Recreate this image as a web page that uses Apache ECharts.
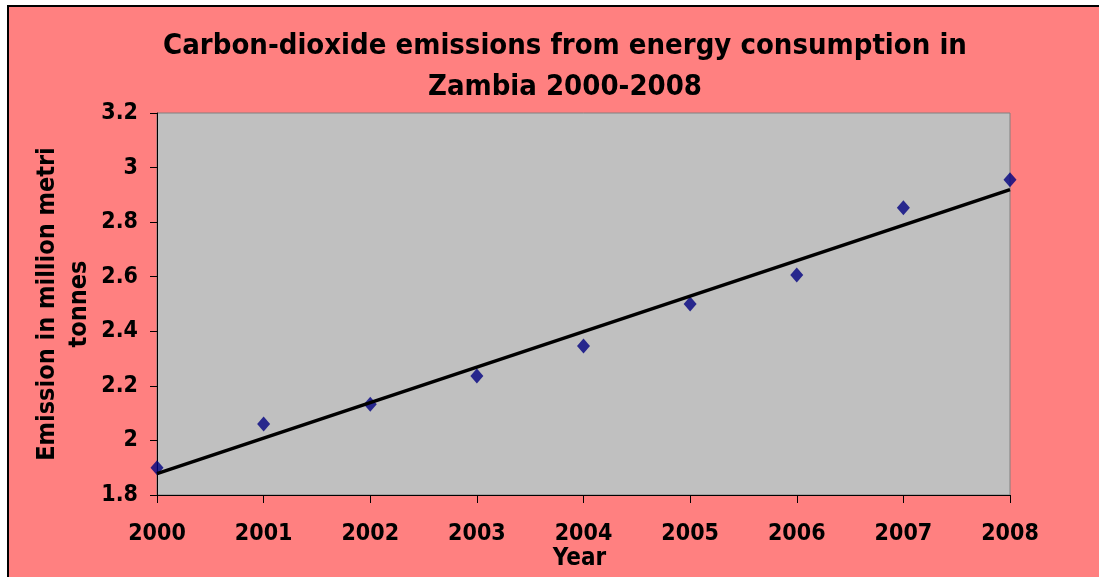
<!DOCTYPE html>
<html>
<head>
<meta charset="utf-8">
<script src="https://cdn.jsdelivr.net/npm/echarts@6/dist/echarts.min.js"></script>
<style>
  html, body { margin: 0; padding: 0; background: #ffffff; overflow: hidden; }
  #frame { position: absolute; left: 7px; top: 5px; width: 1100px; height: 580px;
           background: #FF8080; border-left: 2px solid #000; border-top: 2px solid #000; box-sizing: border-box; }
  #chart { position: absolute; left: 0; top: 0; width: 1099px; height: 577px; }
</style>
</head>
<body>
<div id="frame"></div>
<div id="chart"></div>
<script>
const years = [2000, 2001, 2002, 2003, 2004, 2005, 2006, 2007, 2008];
const emissions = [1.90, 2.06, 2.133, 2.236, 2.346, 2.50, 2.606, 2.853, 2.955];
const titleText = 'Carbon-dioxide emissions from energy consumption in\nZambia 2000-2008';
const xAxisTitle = 'Year';
const yAxisTitle = 'Emission in million metri\ntonnes';

// linear trendline (least squares) from the data
const n = years.length;
const mx = years.reduce((a, b) => a + b, 0) / n;
const my = emissions.reduce((a, b) => a + b, 0) / n;
let sxy = 0, sxx = 0;
for (let i = 0; i < n; i++) { sxy += (years[i] - mx) * (emissions[i] - my); sxx += (years[i] - mx) ** 2; }
const slope = sxy / sxx;
const icpt = my - slope * mx;
const trend = [years[0], years[n - 1]].map(x => [x, icpt + slope * x]);

const FONT = 'DejaVu Sans Condensed';
const chart = echarts.init(document.getElementById('chart'));
chart.setOption({
  backgroundColor: 'transparent',
  animation: false,
  title: {
    text: titleText,
    left: 560, top: 21, textAlign: 'center',
    textStyle: { fontFamily: FONT, fontWeight: 'bold', fontSize: 29, color: '#000', lineHeight: 41 }
  },
  grid: { left: 157, top: 113, right: 89, bottom: 82, show: true, containLabel: false,
          outerBoundsMode: 'none',
          backgroundColor: '#C0C0C0', borderColor: '#808080', borderWidth: 1 },
  xAxis: {
    type: 'value', min: 2000, max: 2008, interval: 1,
    name: xAxisTitle, nameLocation: 'middle', nameGap: 52, nameMoveOverlap: false,
    nameTextStyle: { fontFamily: FONT, fontWeight: 'bold', fontSize: 24, color: '#000', padding: [0, 8, 0, 0] },
    axisLine: { lineStyle: { color: '#000', width: 1 } },
    axisTick: { show: true, length: 8, inside: false, lineStyle: { color: '#000' } },
    axisLabel: { fontFamily: FONT, fontWeight: 'bold', fontSize: 23, color: '#000', margin: 28,
                 formatter: v => String(v) },
    splitLine: { show: false }
  },
  yAxis: {
    type: 'value', min: 1.8, max: 3.2, interval: 0.2,
    name: yAxisTitle, nameLocation: 'middle', nameRotate: 90, nameGap: 62, nameMoveOverlap: false,
    nameTextStyle: { fontFamily: FONT, fontWeight: 'bold', fontSize: 25, color: '#000', lineHeight: 32 },
    axisLine: { show: true, lineStyle: { color: '#000', width: 1 } },
    axisTick: { show: true, length: 7, inside: false, lineStyle: { color: '#000' } },
    axisLabel: { fontFamily: FONT, fontWeight: 'bold', fontSize: 23, color: '#000', margin: 19,
                 formatter: v => String(Math.round(v * 10) / 10) },
    splitLine: { show: false }
  },
  series: [
    { type: 'scatter', data: years.map((y, i) => [y, emissions[i]]),
      symbol: 'diamond', symbolSize: [13, 15], itemStyle: { color: '#000080' }, z: 2 },
    { type: 'line', data: trend, symbol: 'none', lineStyle: { color: '#000', width: 3.5 }, z: 3 }
  ]
});
</script>
</body>
</html>
